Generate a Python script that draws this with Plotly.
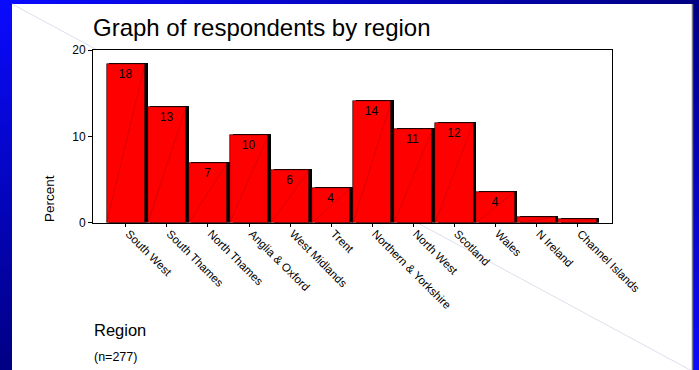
import base64
import plotly.graph_objects as go

# Respondents by region (percent of n=277)
regions = ["South West", "South Thames", "North Thames", "Anglia & Oxford",
           "West Midlands", "Trent", "Northern & Yorkshire", "North West",
           "Scotland", "Wales", "N Ireland", "Channel Islands"]
percent = [18.4, 13.4, 6.9, 10.1, 6.1, 4.0, 14.1, 10.8, 11.6, 3.6, 0.7, 0.4]
y_ticks = [0, 10, 20]

W, H = 699, 370
FONT = "Liberation Sans, Arial, sans-serif"

# plot frame in pixels
PL, PR, PT, PB = 93, 612, 50, 222.7


def px(x):
    return x / W


def py(y):
    return 1 - y / H


idx = list(range(len(regions)))
bar_w = 0.935          # red face width (category units)
shade_dx = 0.066       # shadow shift to the right
shade_dy = 0.12        # shadow shift upward (percent units)

fig = go.Figure()

# black drop shadow behind each bar
fig.add_trace(go.Bar(
    x=idx, y=[v + shade_dy for v in percent], width=bar_w,
    offset=-bar_w / 2 + shade_dx,
    marker=dict(color="black", line=dict(width=0)),
    hoverinfo="skip", showlegend=False,
))

# red bar faces with rounded value labels
fig.add_trace(go.Bar(
    x=idx, y=percent, width=bar_w, offset=-bar_w / 2,
    marker=dict(color="#ff0000", line=dict(color="black", width=0.6)),
    text=[f"{round(v):d}" for v in percent],
    textposition="inside", insidetextanchor="end",
    textfont=dict(family=FONT, size=12, color="black"),
    cliponaxis=False, hoverinfo="skip", showlegend=False,
))

# faint diagonal stroke across each bar face
dx, dy = [], []
for i, v in zip(idx, percent):
    dx += [i - bar_w / 2, i + bar_w / 2, None]
    dy += [0, v, None]
fig.add_trace(go.Scatter(
    x=dx, y=dy, mode="lines",
    line=dict(color="rgba(120,0,0,0.45)", width=0.6),
    hoverinfo="skip", showlegend=False,
))

# slide background: diagonal blue gradient as an inline SVG
svg = (
    f'<svg xmlns="http://www.w3.org/2000/svg" width="{W}" height="{H}" '
    f'viewBox="0 0 {W} {H}" preserveAspectRatio="none">'
    '<defs><linearGradient id="g" x1="0" y1="0" x2="1" y2="1">'
    '<stop offset="0" stop-color="#0a0aff"/>'
    '<stop offset="0.5" stop-color="#000084"/>'
    '<stop offset="1" stop-color="#0a0aff"/>'
    '</linearGradient></defs>'
    f'<rect width="{W}" height="{H}" fill="url(#g)"/></svg>'
)
bg_src = "data:image/svg+xml;base64," + base64.b64encode(svg.encode()).decode()

shapes = [
    # white slide panel
    dict(type="rect", xref="paper", yref="paper", layer="below",
         x0=px(12), x1=px(692.5), y0=py(H + 5), y1=py(4),
         fillcolor="white", line=dict(width=0)),
    # panel edge shading on the right
    dict(type="line", xref="paper", yref="paper", layer="below",
         x0=px(692.5), x1=px(692.5), y0=py(H), y1=py(4),
         line=dict(color="#7a7a8a", width=1.5)),
    # faint panel diagonal
    dict(type="line", xref="paper", yref="paper", layer="below",
         x0=px(12), y0=py(4), x1=px(692), y1=py(371),
         line=dict(color="#dedeee", width=1)),
    # opaque plot area over the diagonal
    dict(type="rect", xref="paper", yref="paper", layer="below",
         x0=px(PL), x1=px(PR), y0=py(PB), y1=py(PT),
         fillcolor="white", line=dict(width=0)),
]

annotations = [
    dict(text="Graph of respondents by region", xref="paper", yref="paper",
         x=px(91), y=py(27.5), xanchor="left", yanchor="middle", showarrow=False,
         font=dict(family=FONT, size=24, color="black")),
    dict(text="Percent", xref="paper", yref="paper", textangle=-90,
         x=px(50), y=py(199), xanchor="center", yanchor="middle",
         showarrow=False, font=dict(family=FONT, size=13.5, color="black")),
    dict(text="Region", xref="paper", yref="paper",
         x=px(92), y=py(330), xanchor="left", yanchor="middle",
         showarrow=False, font=dict(family=FONT, size=16.5, color="black")),
    dict(text="(n=277)", xref="paper", yref="paper",
         x=px(92), y=py(357), xanchor="left", yanchor="middle",
         showarrow=False, font=dict(family=FONT, size=12.5, color="black")),
]

fig.update_layout(
    width=W, height=H, autosize=False,
    margin=dict(l=0, r=0, t=0, b=0, pad=0, autoexpand=False),
    paper_bgcolor="#000084", plot_bgcolor="white",
    barmode="overlay", bargap=0,
    uniformtext=dict(minsize=11, mode="hide"),
    images=[dict(source=bg_src, xref="paper", yref="paper", x=0, y=1,
                 sizex=1, sizey=1, xanchor="left", yanchor="top",
                 sizing="stretch", layer="below")],
    shapes=shapes, annotations=annotations,
    xaxis=dict(
        domain=[px(PL), px(PR)], range=[-0.80, 11.84], automargin=False,
        tickmode="array", tickvals=idx, ticktext=regions, tickangle=45,
        ticks="outside", ticklen=3, tickwidth=1.2, tickcolor="black",
        tickfont=dict(family=FONT, size=11.5, color="black"),
        ticklabelshift=3, ticklabelstandoff=-4,
        showline=True, linecolor="black", linewidth=1, mirror=True,
        showgrid=False, zeroline=False, fixedrange=True,
    ),
    yaxis=dict(
        domain=[py(PB), py(PT)], range=[0, 20], automargin=False,
        tickmode="array", tickvals=y_ticks,
        ticks="outside", ticklen=4, tickwidth=1, tickcolor="black",
        tickfont=dict(family=FONT, size=12, color="black"),
        showline=True, linecolor="black", linewidth=1, mirror=True,
        showgrid=False, zeroline=False, fixedrange=True,
    ),
)

fig.write_html("out.html")
